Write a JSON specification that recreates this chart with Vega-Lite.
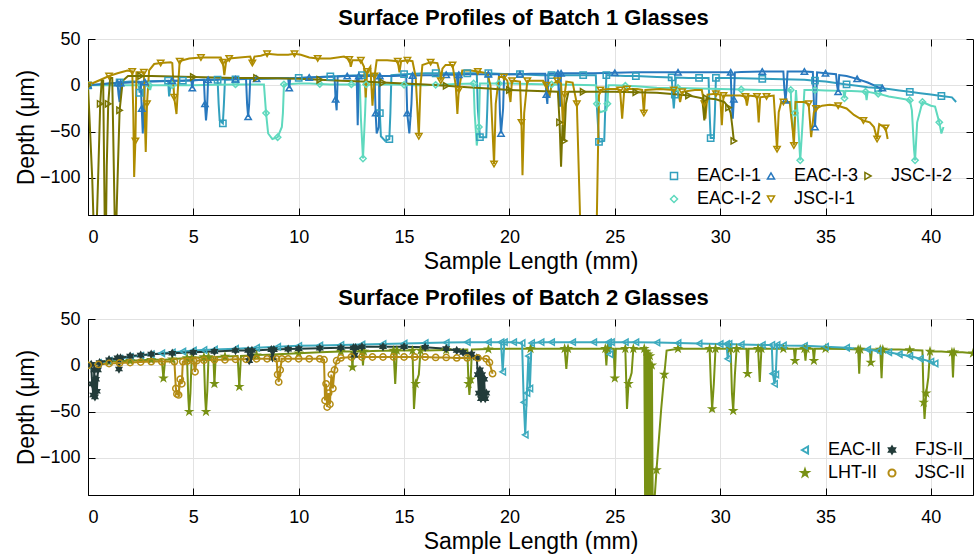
{
"$schema": "https://vega.github.io/schema/vega-lite/v6.json",
"background": "white",
"padding": {"left": 14, "top": 6, "right": 2, "bottom": 0},
"spacing": -7,
"config": {
 "font": "Liberation Sans",
 "view": {"stroke": "black", "strokeWidth": 1},
 "axis": {"grid": true, "gridColor": "#E2E2E2", "gridWidth": 1, "domain": true, "domainColor": "black", "tickColor": "black", "tickSize": -7, "labelFont": "Liberation Sans", "labelFontSize": 18, "labelColor": "black", "titleFont": "Liberation Sans", "titleFontSize": 23, "titleFontWeight": "normal", "titleColor": "black"},
 "legend": {"labelFont": "Liberation Sans", "labelFontSize": 18, "labelColor": "black", "symbolStrokeWidth": 1.5, "symbolSize": 50, "rowPadding": 5, "columnPadding": -5, "labelOffset": 14, "padding": 0},
 "title": {"font": "Liberation Sans", "fontSize": 22, "fontWeight": "bold", "color": "black"}
},
"resolve": {"scale": {"color": "independent", "shape": "independent", "fill": "independent", "strokeWidth": "independent"}, "legend": {"color": "independent", "shape": "independent"}},
"datasets": {
"b1": [
{"s":"EAC-I-1","x":0,"y":0},{"s":"EAC-I-1","x":0.5,"y":1},{"s":"EAC-I-1","x":1,"y":2},{"s":"EAC-I-1","x":1.5,"y":3},{"s":"EAC-I-1","x":2,"y":4},{"s":"EAC-I-1","x":2.4,"y":4},{"s":"EAC-I-1","x":2.45,"y":-8},{"s":"EAC-I-1","x":2.55,"y":4},{"s":"EAC-I-1","x":3,"y":4.5},{"s":"EAC-I-1","x":3.8,"y":5},{"s":"EAC-I-1","x":3.85,"y":-12},{"s":"EAC-I-1","x":3.95,"y":5},{"s":"EAC-I-1","x":4.5,"y":5},{"s":"EAC-I-1","x":5,"y":5.5},{"s":"EAC-I-1","x":5.5,"y":6},{"s":"EAC-I-1","x":6.15,"y":6},{"s":"EAC-I-1","x":6.2,"y":-20},{"s":"EAC-I-1","x":6.25,"y":-38},{"s":"EAC-I-1","x":6.4,"y":-41},{"s":"EAC-I-1","x":6.45,"y":-20},{"s":"EAC-I-1","x":6.5,"y":6},{"s":"EAC-I-1","x":7,"y":6.5},{"s":"EAC-I-1","x":8,"y":7},{"s":"EAC-I-1","x":9,"y":7.5},{"s":"EAC-I-1","x":10,"y":8},{"s":"EAC-I-1","x":10.5,"y":8.5},{"s":"EAC-I-1","x":11,"y":9},{"s":"EAC-I-1","x":11.5,"y":9.5},{"s":"EAC-I-1","x":12,"y":10},{"s":"EAC-I-1","x":12.5,"y":10.5},{"s":"EAC-I-1","x":13,"y":11},{"s":"EAC-I-1","x":13.5,"y":11.5},{"s":"EAC-I-1","x":13.8,"y":11},{"s":"EAC-I-1","x":13.85,"y":-30},{"s":"EAC-I-1","x":13.9,"y":-55},{"s":"EAC-I-1","x":14.1,"y":-60},{"s":"EAC-I-1","x":14.3,"y":-58},{"s":"EAC-I-1","x":14.35,"y":-30},{"s":"EAC-I-1","x":14.4,"y":11},{"s":"EAC-I-1","x":15,"y":12},{"s":"EAC-I-1","x":15.5,"y":12.5},{"s":"EAC-I-1","x":16,"y":13},{"s":"EAC-I-1","x":16.5,"y":13},{"s":"EAC-I-1","x":17,"y":13},{"s":"EAC-I-1","x":17.5,"y":13},{"s":"EAC-I-1","x":18,"y":13},{"s":"EAC-I-1","x":18.45,"y":13},{"s":"EAC-I-1","x":18.5,"y":-25},{"s":"EAC-I-1","x":18.6,"y":-56},{"s":"EAC-I-1","x":18.9,"y":-56},{"s":"EAC-I-1","x":18.95,"y":-25},{"s":"EAC-I-1","x":19,"y":13},{"s":"EAC-I-1","x":19.5,"y":12.5},{"s":"EAC-I-1","x":20,"y":12},{"s":"EAC-I-1","x":20.5,"y":12},{"s":"EAC-I-1","x":21,"y":11.5},{"s":"EAC-I-1","x":21.5,"y":11},{"s":"EAC-I-1","x":22,"y":11},{"s":"EAC-I-1","x":22.5,"y":11},{"s":"EAC-I-1","x":23,"y":11},{"s":"EAC-I-1","x":23.5,"y":11},{"s":"EAC-I-1","x":24.1,"y":11},{"s":"EAC-I-1","x":24.15,"y":-23},{"s":"EAC-I-1","x":24.25,"y":-61},{"s":"EAC-I-1","x":24.5,"y":-60},{"s":"EAC-I-1","x":24.55,"y":-23},{"s":"EAC-I-1","x":24.6,"y":11},{"s":"EAC-I-1","x":25,"y":10.5},{"s":"EAC-I-1","x":25.5,"y":10},{"s":"EAC-I-1","x":26,"y":10},{"s":"EAC-I-1","x":26.5,"y":9.5},{"s":"EAC-I-1","x":27,"y":9},{"s":"EAC-I-1","x":27.7,"y":8.5},{"s":"EAC-I-1","x":27.75,"y":-10},{"s":"EAC-I-1","x":27.8,"y":-25},{"s":"EAC-I-1","x":27.85,"y":-10},{"s":"EAC-I-1","x":27.9,"y":8.5},{"s":"EAC-I-1","x":28.5,"y":8},{"s":"EAC-I-1","x":29,"y":8},{"s":"EAC-I-1","x":29.45,"y":8},{"s":"EAC-I-1","x":29.5,"y":-30},{"s":"EAC-I-1","x":29.55,"y":-57},{"s":"EAC-I-1","x":29.7,"y":-57},{"s":"EAC-I-1","x":29.75,"y":-30},{"s":"EAC-I-1","x":29.8,"y":8},{"s":"EAC-I-1","x":30.5,"y":8},{"s":"EAC-I-1","x":31,"y":7.5},{"s":"EAC-I-1","x":32,"y":7},{"s":"EAC-I-1","x":33,"y":6.5},{"s":"EAC-I-1","x":34,"y":6},{"s":"EAC-I-1","x":34.5,"y":5},{"s":"EAC-I-1","x":35,"y":4},{"s":"EAC-I-1","x":35.5,"y":2.5},{"s":"EAC-I-1","x":36,"y":1},{"s":"EAC-I-1","x":36.5,"y":-0.5},{"s":"EAC-I-1","x":37,"y":-2},{"s":"EAC-I-1","x":37.5,"y":-3},{"s":"EAC-I-1","x":38,"y":-4},{"s":"EAC-I-1","x":38.5,"y":-5.5},{"s":"EAC-I-1","x":39,"y":-7},{"s":"EAC-I-1","x":39.5,"y":-8.5},{"s":"EAC-I-1","x":40,"y":-10},{"s":"EAC-I-1","x":40.5,"y":-11.5},{"s":"EAC-I-1","x":41,"y":-13},{"s":"EAC-I-1","x":41.2,"y":-18},
{"s":"EAC-I-2","x":0,"y":0},{"s":"EAC-I-2","x":1,"y":0},{"s":"EAC-I-2","x":2,"y":0},{"s":"EAC-I-2","x":2.9,"y":0},{"s":"EAC-I-2","x":2.95,"y":-5},{"s":"EAC-I-2","x":3,"y":0},{"s":"EAC-I-2","x":4,"y":0},{"s":"EAC-I-2","x":5,"y":0},{"s":"EAC-I-2","x":6,"y":0.5},{"s":"EAC-I-2","x":7,"y":1},{"s":"EAC-I-2","x":8,"y":1},{"s":"EAC-I-2","x":8.35,"y":1},{"s":"EAC-I-2","x":8.45,"y":-30},{"s":"EAC-I-2","x":8.55,"y":-52},{"s":"EAC-I-2","x":8.75,"y":-58},{"s":"EAC-I-2","x":9,"y":-56},{"s":"EAC-I-2","x":9.2,"y":-45},{"s":"EAC-I-2","x":9.25,"y":-30},{"s":"EAC-I-2","x":9.3,"y":1},{"s":"EAC-I-2","x":10,"y":2},{"s":"EAC-I-2","x":10.5,"y":2},{"s":"EAC-I-2","x":11,"y":1.5},{"s":"EAC-I-2","x":11.5,"y":1},{"s":"EAC-I-2","x":12,"y":1},{"s":"EAC-I-2","x":12.5,"y":1},{"s":"EAC-I-2","x":12.9,"y":1},{"s":"EAC-I-2","x":12.95,"y":-35},{"s":"EAC-I-2","x":13.05,"y":-79},{"s":"EAC-I-2","x":13.1,"y":-55},{"s":"EAC-I-2","x":13.15,"y":-30},{"s":"EAC-I-2","x":13.2,"y":1},{"s":"EAC-I-2","x":13.7,"y":1},{"s":"EAC-I-2","x":14.5,"y":1},{"s":"EAC-I-2","x":15,"y":0.5},{"s":"EAC-I-2","x":15.5,"y":0},{"s":"EAC-I-2","x":16,"y":0},{"s":"EAC-I-2","x":16.5,"y":0.5},{"s":"EAC-I-2","x":17,"y":1},{"s":"EAC-I-2","x":17.5,"y":1.5},{"s":"EAC-I-2","x":18.3,"y":2},{"s":"EAC-I-2","x":18.35,"y":-30},{"s":"EAC-I-2","x":18.45,"y":-65},{"s":"EAC-I-2","x":18.55,"y":-45},{"s":"EAC-I-2","x":18.6,"y":2},{"s":"EAC-I-2","x":19,"y":2},{"s":"EAC-I-2","x":19.5,"y":2},{"s":"EAC-I-2","x":20,"y":2},{"s":"EAC-I-2","x":21,"y":1.5},{"s":"EAC-I-2","x":22,"y":1},{"s":"EAC-I-2","x":23,"y":0.5},{"s":"EAC-I-2","x":24.1,"y":0},{"s":"EAC-I-2","x":24.15,"y":-20},{"s":"EAC-I-2","x":24.3,"y":-29},{"s":"EAC-I-2","x":24.6,"y":-27},{"s":"EAC-I-2","x":24.65,"y":-20},{"s":"EAC-I-2","x":24.7,"y":0},{"s":"EAC-I-2","x":25,"y":0},{"s":"EAC-I-2","x":25.5,"y":-0.5},{"s":"EAC-I-2","x":26,"y":-1},{"s":"EAC-I-2","x":27,"y":-2.5},{"s":"EAC-I-2","x":28,"y":-3},{"s":"EAC-I-2","x":29,"y":-3.5},{"s":"EAC-I-2","x":30,"y":-4},{"s":"EAC-I-2","x":31,"y":-4.5},{"s":"EAC-I-2","x":32,"y":-5},{"s":"EAC-I-2","x":33,"y":-5},{"s":"EAC-I-2","x":33.35,"y":-5},{"s":"EAC-I-2","x":33.4,"y":-35},{"s":"EAC-I-2","x":33.5,"y":-58},{"s":"EAC-I-2","x":33.55,"y":-30},{"s":"EAC-I-2","x":33.6,"y":-5},{"s":"EAC-I-2","x":33.7,"y":-40},{"s":"EAC-I-2","x":33.8,"y":-81},{"s":"EAC-I-2","x":33.9,"y":-45},{"s":"EAC-I-2","x":34,"y":-5},{"s":"EAC-I-2","x":34.5,"y":-5},{"s":"EAC-I-2","x":35,"y":-5.5},{"s":"EAC-I-2","x":35.85,"y":-6},{"s":"EAC-I-2","x":35.9,"y":-14},{"s":"EAC-I-2","x":35.95,"y":-6},{"s":"EAC-I-2","x":36.5,"y":-6.5},{"s":"EAC-I-2","x":36.9,"y":-7},{"s":"EAC-I-2","x":36.95,"y":-16},{"s":"EAC-I-2","x":37,"y":-7},{"s":"EAC-I-2","x":37.5,"y":-9},{"s":"EAC-I-2","x":38,"y":-12},{"s":"EAC-I-2","x":38.5,"y":-14},{"s":"EAC-I-2","x":39,"y":-16},{"s":"EAC-I-2","x":39.1,"y":-27},{"s":"EAC-I-2","x":39.2,"y":-69},{"s":"EAC-I-2","x":39.25,"y":-81},{"s":"EAC-I-2","x":39.35,"y":-40},{"s":"EAC-I-2","x":39.5,"y":-27},{"s":"EAC-I-2","x":39.6,"y":-18},{"s":"EAC-I-2","x":40,"y":-22},{"s":"EAC-I-2","x":40.2,"y":-23},{"s":"EAC-I-2","x":40.4,"y":-40},{"s":"EAC-I-2","x":40.5,"y":-52},{"s":"EAC-I-2","x":40.6,"y":-45},
{"s":"EAC-I-3","x":0,"y":0},{"s":"EAC-I-3","x":0.5,"y":1},{"s":"EAC-I-3","x":1,"y":2},{"s":"EAC-I-3","x":1.4,"y":2.5},{"s":"EAC-I-3","x":1.45,"y":-10},{"s":"EAC-I-3","x":1.5,"y":-18},{"s":"EAC-I-3","x":1.55,"y":2.5},{"s":"EAC-I-3","x":2,"y":3},{"s":"EAC-I-3","x":2.5,"y":3.5},{"s":"EAC-I-3","x":2.55,"y":-25},{"s":"EAC-I-3","x":2.6,"y":-52},{"s":"EAC-I-3","x":2.65,"y":-20},{"s":"EAC-I-3","x":2.7,"y":3.5},{"s":"EAC-I-3","x":3,"y":4},{"s":"EAC-I-3","x":3.5,"y":4.5},{"s":"EAC-I-3","x":4,"y":5},{"s":"EAC-I-3","x":4.5,"y":5},{"s":"EAC-I-3","x":4.9,"y":5.5},{"s":"EAC-I-3","x":4.95,"y":-3},{"s":"EAC-I-3","x":5,"y":5.5},{"s":"EAC-I-3","x":5.5,"y":6},{"s":"EAC-I-3","x":5.55,"y":-20},{"s":"EAC-I-3","x":5.6,"y":-38},{"s":"EAC-I-3","x":5.65,"y":-25},{"s":"EAC-I-3","x":5.7,"y":6},{"s":"EAC-I-3","x":6,"y":6},{"s":"EAC-I-3","x":6.5,"y":6.5},{"s":"EAC-I-3","x":7,"y":6.5},{"s":"EAC-I-3","x":7.5,"y":7},{"s":"EAC-I-3","x":7.55,"y":-20},{"s":"EAC-I-3","x":7.6,"y":-34},{"s":"EAC-I-3","x":7.65,"y":-20},{"s":"EAC-I-3","x":7.7,"y":7},{"s":"EAC-I-3","x":8,"y":7},{"s":"EAC-I-3","x":9,"y":7.5},{"s":"EAC-I-3","x":9.5,"y":7.5},{"s":"EAC-I-3","x":9.55,"y":-3},{"s":"EAC-I-3","x":9.6,"y":7.5},{"s":"EAC-I-3","x":10,"y":8},{"s":"EAC-I-3","x":10.5,"y":8.5},{"s":"EAC-I-3","x":11,"y":9},{"s":"EAC-I-3","x":11.7,"y":9.5},{"s":"EAC-I-3","x":11.75,"y":-15},{"s":"EAC-I-3","x":11.8,"y":-27},{"s":"EAC-I-3","x":11.85,"y":9.5},{"s":"EAC-I-3","x":12.3,"y":10},{"s":"EAC-I-3","x":12.75,"y":10},{"s":"EAC-I-3","x":12.8,"y":-43},{"s":"EAC-I-3","x":12.85,"y":10},{"s":"EAC-I-3","x":13.3,"y":10},{"s":"EAC-I-3","x":13.6,"y":10},{"s":"EAC-I-3","x":13.65,"y":-30},{"s":"EAC-I-3","x":13.7,"y":-52},{"s":"EAC-I-3","x":13.8,"y":-45},{"s":"EAC-I-3","x":13.85,"y":10},{"s":"EAC-I-3","x":14.5,"y":10},{"s":"EAC-I-3","x":15.1,"y":10.5},{"s":"EAC-I-3","x":15.15,"y":-30},{"s":"EAC-I-3","x":15.25,"y":-52},{"s":"EAC-I-3","x":15.35,"y":-20},{"s":"EAC-I-3","x":15.4,"y":10.5},{"s":"EAC-I-3","x":16,"y":11},{"s":"EAC-I-3","x":16.5,"y":11},{"s":"EAC-I-3","x":17,"y":11.5},{"s":"EAC-I-3","x":17.5,"y":11.5},{"s":"EAC-I-3","x":17.55,"y":-3},{"s":"EAC-I-3","x":17.6,"y":11.5},{"s":"EAC-I-3","x":18,"y":12},{"s":"EAC-I-3","x":18.5,"y":12},{"s":"EAC-I-3","x":19,"y":12},{"s":"EAC-I-3","x":19.5,"y":12},{"s":"EAC-I-3","x":19.55,"y":-30},{"s":"EAC-I-3","x":19.6,"y":-52},{"s":"EAC-I-3","x":19.7,"y":-25},{"s":"EAC-I-3","x":19.75,"y":12},{"s":"EAC-I-3","x":20.5,"y":12},{"s":"EAC-I-3","x":21,"y":12.5},{"s":"EAC-I-3","x":21.7,"y":12.5},{"s":"EAC-I-3","x":21.75,"y":-10},{"s":"EAC-I-3","x":21.8,"y":-20},{"s":"EAC-I-3","x":21.85,"y":12.5},{"s":"EAC-I-3","x":22.3,"y":13},{"s":"EAC-I-3","x":22.35,"y":-15},{"s":"EAC-I-3","x":22.4,"y":-23},{"s":"EAC-I-3","x":22.45,"y":13},{"s":"EAC-I-3","x":23,"y":13},{"s":"EAC-I-3","x":24,"y":13},{"s":"EAC-I-3","x":25,"y":13.5},{"s":"EAC-I-3","x":26,"y":14},{"s":"EAC-I-3","x":27,"y":14},{"s":"EAC-I-3","x":28,"y":14},{"s":"EAC-I-3","x":29,"y":14},{"s":"EAC-I-3","x":30,"y":14},{"s":"EAC-I-3","x":30.5,"y":14},{"s":"EAC-I-3","x":30.55,"y":-20},{"s":"EAC-I-3","x":30.6,"y":-36},{"s":"EAC-I-3","x":30.65,"y":-15},{"s":"EAC-I-3","x":30.7,"y":14},{"s":"EAC-I-3","x":31,"y":14.5},{"s":"EAC-I-3","x":32,"y":15},{"s":"EAC-I-3","x":33,"y":15},{"s":"EAC-I-3","x":33.05,"y":-5},{"s":"EAC-I-3","x":33.1,"y":-16},{"s":"EAC-I-3","x":33.15,"y":-5},{"s":"EAC-I-3","x":33.2,"y":15},{"s":"EAC-I-3","x":34,"y":15},{"s":"EAC-I-3","x":34.4,"y":14.5},{"s":"EAC-I-3","x":34.45,"y":-20},{"s":"EAC-I-3","x":34.5,"y":-45},{"s":"EAC-I-3","x":34.55,"y":-25},{"s":"EAC-I-3","x":34.6,"y":14},{"s":"EAC-I-3","x":35,"y":13},{"s":"EAC-I-3","x":35.5,"y":12},{"s":"EAC-I-3","x":35.55,"y":0},{"s":"EAC-I-3","x":35.6,"y":-7},{"s":"EAC-I-3","x":35.65,"y":11},{"s":"EAC-I-3","x":36,"y":10},{"s":"EAC-I-3","x":36.5,"y":7},{"s":"EAC-I-3","x":37,"y":3},{"s":"EAC-I-3","x":37.5,"y":-2},{"s":"EAC-I-3","x":37.7,"y":-3},
{"s":"JSC-I-1","x":0,"y":0},{"s":"JSC-I-1","x":0.3,"y":3},{"s":"JSC-I-1","x":0.6,"y":6},{"s":"JSC-I-1","x":1,"y":10},{"s":"JSC-I-1","x":1.4,"y":13},{"s":"JSC-I-1","x":1.87,"y":16},{"s":"JSC-I-1","x":2.1,"y":15},{"s":"JSC-I-1","x":2.15,"y":-30},{"s":"JSC-I-1","x":2.19,"y":-99},{"s":"JSC-I-1","x":2.25,"y":-60},{"s":"JSC-I-1","x":2.3,"y":14},{"s":"JSC-I-1","x":2.4,"y":14},{"s":"JSC-I-1","x":2.65,"y":14},{"s":"JSC-I-1","x":2.7,"y":-40},{"s":"JSC-I-1","x":2.74,"y":-72},{"s":"JSC-I-1","x":2.8,"y":-20},{"s":"JSC-I-1","x":2.9,"y":16},{"s":"JSC-I-1","x":3.14,"y":23},{"s":"JSC-I-1","x":3.45,"y":24},{"s":"JSC-I-1","x":3.93,"y":25},{"s":"JSC-I-1","x":4,"y":24},{"s":"JSC-I-1","x":4.09,"y":-13},{"s":"JSC-I-1","x":4.2,"y":-31},{"s":"JSC-I-1","x":4.25,"y":-10},{"s":"JSC-I-1","x":4.35,"y":26},{"s":"JSC-I-1","x":4.49,"y":27},{"s":"JSC-I-1","x":4.8,"y":29},{"s":"JSC-I-1","x":5.36,"y":30},{"s":"JSC-I-1","x":5.8,"y":30},{"s":"JSC-I-1","x":6.3,"y":30},{"s":"JSC-I-1","x":6.4,"y":25},{"s":"JSC-I-1","x":6.47,"y":11},{"s":"JSC-I-1","x":6.55,"y":25},{"s":"JSC-I-1","x":6.7,"y":29},{"s":"JSC-I-1","x":7.2,"y":30},{"s":"JSC-I-1","x":7.7,"y":31},{"s":"JSC-I-1","x":7.8,"y":24},{"s":"JSC-I-1","x":7.9,"y":31},{"s":"JSC-I-1","x":8.2,"y":32},{"s":"JSC-I-1","x":8.5,"y":34},{"s":"JSC-I-1","x":9,"y":33},{"s":"JSC-I-1","x":9.5,"y":33},{"s":"JSC-I-1","x":9.8,"y":34},{"s":"JSC-I-1","x":10.1,"y":33},{"s":"JSC-I-1","x":10.5,"y":30},{"s":"JSC-I-1","x":10.9,"y":29},{"s":"JSC-I-1","x":11.5,"y":29},{"s":"JSC-I-1","x":12.15,"y":31},{"s":"JSC-I-1","x":12.4,"y":28},{"s":"JSC-I-1","x":12.47,"y":20},{"s":"JSC-I-1","x":12.55,"y":27},{"s":"JSC-I-1","x":12.95,"y":27},{"s":"JSC-I-1","x":13.1,"y":20},{"s":"JSC-I-1","x":13.18,"y":-13},{"s":"JSC-I-1","x":13.25,"y":15},{"s":"JSC-I-1","x":13.4,"y":20},{"s":"JSC-I-1","x":13.5,"y":-22},{"s":"JSC-I-1","x":13.6,"y":10},{"s":"JSC-I-1","x":13.7,"y":27},{"s":"JSC-I-1","x":14.2,"y":27},{"s":"JSC-I-1","x":14.7,"y":26},{"s":"JSC-I-1","x":14.78,"y":14},{"s":"JSC-I-1","x":14.86,"y":26},{"s":"JSC-I-1","x":15.16,"y":27},{"s":"JSC-I-1","x":15.4,"y":26},{"s":"JSC-I-1","x":15.55,"y":9},{"s":"JSC-I-1","x":15.7,"y":-55},{"s":"JSC-I-1","x":15.78,"y":0},{"s":"JSC-I-1","x":15.87,"y":22},{"s":"JSC-I-1","x":16.26,"y":25},{"s":"JSC-I-1","x":16.58,"y":24},{"s":"JSC-I-1","x":16.68,"y":15},{"s":"JSC-I-1","x":16.74,"y":5},{"s":"JSC-I-1","x":16.82,"y":18},{"s":"JSC-I-1","x":16.97,"y":22},{"s":"JSC-I-1","x":17.3,"y":22},{"s":"JSC-I-1","x":17.45,"y":0},{"s":"JSC-I-1","x":17.53,"y":-31},{"s":"JSC-I-1","x":17.6,"y":-5},{"s":"JSC-I-1","x":17.76,"y":16},{"s":"JSC-I-1","x":18.16,"y":16},{"s":"JSC-I-1","x":18.5,"y":15},{"s":"JSC-I-1","x":18.95,"y":13},{"s":"JSC-I-1","x":19.1,"y":0},{"s":"JSC-I-1","x":19.27,"y":-85},{"s":"JSC-I-1","x":19.35,"y":-20},{"s":"JSC-I-1","x":19.5,"y":9},{"s":"JSC-I-1","x":19.74,"y":9},{"s":"JSC-I-1","x":19.9,"y":5},{"s":"JSC-I-1","x":20.05,"y":-18},{"s":"JSC-I-1","x":20.12,"y":5},{"s":"JSC-I-1","x":20.2,"y":5},{"s":"JSC-I-1","x":20.5,"y":4},{"s":"JSC-I-1","x":20.57,"y":-40},{"s":"JSC-I-1","x":20.62,"y":-97},{"s":"JSC-I-1","x":20.7,"y":-30},{"s":"JSC-I-1","x":20.85,"y":5},{"s":"JSC-I-1","x":21.2,"y":5},{"s":"JSC-I-1","x":21.6,"y":5},{"s":"JSC-I-1","x":21.75,"y":0},{"s":"JSC-I-1","x":21.9,"y":-13},{"s":"JSC-I-1","x":22,"y":0},{"s":"JSC-I-1","x":22.27,"y":5},{"s":"JSC-I-1","x":22.45,"y":2},{"s":"JSC-I-1","x":22.55,"y":-49},{"s":"JSC-I-1","x":22.62,"y":-10},{"s":"JSC-I-1","x":22.7,"y":4},{"s":"JSC-I-1","x":23,"y":3},{"s":"JSC-I-1","x":23.2,"y":-20},{"s":"JSC-I-1","x":23.35,"y":-140},{"s":"JSC-I-1","x":23.5,"y":-220},{"s":"JSC-I-1","x":24,"y":-220},{"s":"JSC-I-1","x":24.15,"y":-140},{"s":"JSC-I-1","x":24.25,"y":-11},{"s":"JSC-I-1","x":24.32,"y":-5},{"s":"JSC-I-1","x":24.7,"y":-4},{"s":"JSC-I-1","x":25.1,"y":-4},{"s":"JSC-I-1","x":25.25,"y":-5},{"s":"JSC-I-1","x":25.35,"y":-36},{"s":"JSC-I-1","x":25.45,"y":-5},{"s":"JSC-I-1","x":25.58,"y":-4},{"s":"JSC-I-1","x":26.06,"y":-4},{"s":"JSC-I-1","x":26.3,"y":-5},{"s":"JSC-I-1","x":26.38,"y":-30},{"s":"JSC-I-1","x":26.45,"y":-5},{"s":"JSC-I-1","x":27.14,"y":-4},{"s":"JSC-I-1","x":27.8,"y":-5},{"s":"JSC-I-1","x":28,"y":-6},{"s":"JSC-I-1","x":28.1,"y":-18},{"s":"JSC-I-1","x":28.2,"y":-7},{"s":"JSC-I-1","x":28.8,"y":-5},{"s":"JSC-I-1","x":29.13,"y":-5},{"s":"JSC-I-1","x":29.25,"y":-20},{"s":"JSC-I-1","x":29.3,"y":-36},{"s":"JSC-I-1","x":29.4,"y":-10},{"s":"JSC-I-1","x":29.8,"y":-9},{"s":"JSC-I-1","x":30,"y":-10},{"s":"JSC-I-1","x":30.08,"y":-43},{"s":"JSC-I-1","x":30.16,"y":-11},{"s":"JSC-I-1","x":30.5,"y":-11},{"s":"JSC-I-1","x":30.95,"y":-11},{"s":"JSC-I-1","x":31.2,"y":-12},{"s":"JSC-I-1","x":31.27,"y":-22},{"s":"JSC-I-1","x":31.35,"y":-11},{"s":"JSC-I-1","x":31.75,"y":-12},{"s":"JSC-I-1","x":31.83,"y":-40},{"s":"JSC-I-1","x":31.9,"y":-13},{"s":"JSC-I-1","x":32.2,"y":-12},{"s":"JSC-I-1","x":32.54,"y":-11},{"s":"JSC-I-1","x":32.62,"y":-40},{"s":"JSC-I-1","x":32.7,"y":-69},{"s":"JSC-I-1","x":32.78,"y":-29},{"s":"JSC-I-1","x":32.9,"y":-18},{"s":"JSC-I-1","x":33,"y":-18},{"s":"JSC-I-1","x":33.3,"y":-18},{"s":"JSC-I-1","x":33.45,"y":-50},{"s":"JSC-I-1","x":33.5,"y":-65},{"s":"JSC-I-1","x":33.58,"y":-18},{"s":"JSC-I-1","x":33.97,"y":-18},{"s":"JSC-I-1","x":34.2,"y":-20},{"s":"JSC-I-1","x":34.32,"y":-56},{"s":"JSC-I-1","x":34.45,"y":-29},{"s":"JSC-I-1","x":34.55,"y":-25},{"s":"JSC-I-1","x":34.84,"y":-22},{"s":"JSC-I-1","x":35.2,"y":-21},{"s":"JSC-I-1","x":35.6,"y":-22},{"s":"JSC-I-1","x":36,"y":-25},{"s":"JSC-I-1","x":36.35,"y":-32},{"s":"JSC-I-1","x":36.8,"y":-38},{"s":"JSC-I-1","x":37.1,"y":-40},{"s":"JSC-I-1","x":37.3,"y":-45},{"s":"JSC-I-1","x":37.45,"y":-58},{"s":"JSC-I-1","x":37.55,"y":-42},{"s":"JSC-I-1","x":37.7,"y":-44},{"s":"JSC-I-1","x":37.85,"y":-46},{"s":"JSC-I-1","x":37.95,"y":-58},
{"s":"JSC-I-2","x":0,"y":0},{"s":"JSC-I-2","x":0.1,"y":-50},{"s":"JSC-I-2","x":0.2,"y":-100},{"s":"JSC-I-2","x":0.28,"y":-160},{"s":"JSC-I-2","x":0.4,"y":-160},{"s":"JSC-I-2","x":0.48,"y":-100},{"s":"JSC-I-2","x":0.58,"y":-20},{"s":"JSC-I-2","x":0.65,"y":5},{"s":"JSC-I-2","x":0.72,"y":5},{"s":"JSC-I-2","x":0.8,"y":-160},{"s":"JSC-I-2","x":0.85,"y":-160},{"s":"JSC-I-2","x":0.89,"y":-88},{"s":"JSC-I-2","x":0.96,"y":-20},{"s":"JSC-I-2","x":1.05,"y":8},{"s":"JSC-I-2","x":1.15,"y":8},{"s":"JSC-I-2","x":1.28,"y":-160},{"s":"JSC-I-2","x":1.33,"y":-160},{"s":"JSC-I-2","x":1.37,"y":-127},{"s":"JSC-I-2","x":1.5,"y":-27},{"s":"JSC-I-2","x":1.65,"y":5},{"s":"JSC-I-2","x":1.9,"y":10},{"s":"JSC-I-2","x":2.5,"y":10},{"s":"JSC-I-2","x":3,"y":10},{"s":"JSC-I-2","x":4,"y":9.5},{"s":"JSC-I-2","x":5,"y":9},{"s":"JSC-I-2","x":6,"y":8.5},{"s":"JSC-I-2","x":7,"y":8},{"s":"JSC-I-2","x":8,"y":8},{"s":"JSC-I-2","x":9,"y":7.5},{"s":"JSC-I-2","x":10,"y":7},{"s":"JSC-I-2","x":11,"y":6},{"s":"JSC-I-2","x":12,"y":5},{"s":"JSC-I-2","x":13,"y":4},{"s":"JSC-I-2","x":14,"y":3},{"s":"JSC-I-2","x":15,"y":2},{"s":"JSC-I-2","x":16,"y":1},{"s":"JSC-I-2","x":17,"y":-0.5},{"s":"JSC-I-2","x":18,"y":-2},{"s":"JSC-I-2","x":19,"y":-3.5},{"s":"JSC-I-2","x":20,"y":-5},{"s":"JSC-I-2","x":21,"y":-6},{"s":"JSC-I-2","x":22.3,"y":-7},{"s":"JSC-I-2","x":22.38,"y":-40},{"s":"JSC-I-2","x":22.45,"y":-88},{"s":"JSC-I-2","x":22.52,"y":-43},{"s":"JSC-I-2","x":22.6,"y":-60},{"s":"JSC-I-2","x":22.68,"y":-20},{"s":"JSC-I-2","x":22.8,"y":-7},{"s":"JSC-I-2","x":23.5,"y":-7},{"s":"JSC-I-2","x":24,"y":-7},{"s":"JSC-I-2","x":25,"y":-7},{"s":"JSC-I-2","x":26,"y":-7.5},{"s":"JSC-I-2","x":27,"y":-8},{"s":"JSC-I-2","x":28,"y":-10},{"s":"JSC-I-2","x":28.5,"y":-11},{"s":"JSC-I-2","x":29.15,"y":-14},{"s":"JSC-I-2","x":29.25,"y":-38},{"s":"JSC-I-2","x":29.35,"y":-14},{"s":"JSC-I-2","x":29.8,"y":-15},{"s":"JSC-I-2","x":30.2,"y":-18},{"s":"JSC-I-2","x":30.4,"y":-24},{"s":"JSC-I-2","x":30.5,"y":-30},{"s":"JSC-I-2","x":30.58,"y":-45},{"s":"JSC-I-2","x":30.65,"y":-60}
],
"b2": [
{"s":"LHT-II","x":0,"y":0},{"s":"LHT-II","x":0.5,"y":2},{"s":"LHT-II","x":1,"y":4},{"s":"LHT-II","x":1.5,"y":4.5},{"s":"LHT-II","x":2,"y":5},{"s":"LHT-II","x":2.5,"y":5.5},{"s":"LHT-II","x":3,"y":6},{"s":"LHT-II","x":3.5,"y":6},{"s":"LHT-II","x":3.58,"y":-14},{"s":"LHT-II","x":3.66,"y":6},{"s":"LHT-II","x":4,"y":6.5},{"s":"LHT-II","x":4.5,"y":7.5},{"s":"LHT-II","x":4.7,"y":8},{"s":"LHT-II","x":4.76,"y":-35},{"s":"LHT-II","x":4.8,"y":-50},{"s":"LHT-II","x":4.86,"y":-30},{"s":"LHT-II","x":4.92,"y":8},{"s":"LHT-II","x":5.2,"y":8.5},{"s":"LHT-II","x":5.5,"y":9},{"s":"LHT-II","x":5.56,"y":-35},{"s":"LHT-II","x":5.6,"y":-50},{"s":"LHT-II","x":5.66,"y":-28},{"s":"LHT-II","x":5.72,"y":9},{"s":"LHT-II","x":5.95,"y":9},{"s":"LHT-II","x":6,"y":-20},{"s":"LHT-II","x":6.06,"y":9},{"s":"LHT-II","x":6.5,"y":9.5},{"s":"LHT-II","x":7.1,"y":10},{"s":"LHT-II","x":7.18,"y":-23},{"s":"LHT-II","x":7.26,"y":10},{"s":"LHT-II","x":8,"y":11},{"s":"LHT-II","x":9,"y":12},{"s":"LHT-II","x":10,"y":13},{"s":"LHT-II","x":11,"y":14},{"s":"LHT-II","x":12,"y":15},{"s":"LHT-II","x":12.5,"y":15},{"s":"LHT-II","x":12.55,"y":-2},{"s":"LHT-II","x":12.6,"y":15},{"s":"LHT-II","x":13,"y":15},{"s":"LHT-II","x":13.05,"y":0},{"s":"LHT-II","x":13.1,"y":15},{"s":"LHT-II","x":13.5,"y":15.5},{"s":"LHT-II","x":14.5,"y":16},{"s":"LHT-II","x":14.58,"y":-20},{"s":"LHT-II","x":14.66,"y":16},{"s":"LHT-II","x":15,"y":16},{"s":"LHT-II","x":15.4,"y":16},{"s":"LHT-II","x":15.47,"y":-47},{"s":"LHT-II","x":15.55,"y":-20},{"s":"LHT-II","x":15.7,"y":-10},{"s":"LHT-II","x":15.78,"y":16},{"s":"LHT-II","x":16,"y":16},{"s":"LHT-II","x":17,"y":16.5},{"s":"LHT-II","x":18,"y":17},{"s":"LHT-II","x":18.06,"y":-20},{"s":"LHT-II","x":18.1,"y":-32},{"s":"LHT-II","x":18.16,"y":-15},{"s":"LHT-II","x":18.22,"y":17},{"s":"LHT-II","x":19,"y":17.5},{"s":"LHT-II","x":20,"y":18},{"s":"LHT-II","x":21,"y":18},{"s":"LHT-II","x":22,"y":18},{"s":"LHT-II","x":22.62,"y":18},{"s":"LHT-II","x":22.7,"y":-4},{"s":"LHT-II","x":22.78,"y":18},{"s":"LHT-II","x":23.5,"y":18},{"s":"LHT-II","x":24.55,"y":18},{"s":"LHT-II","x":24.6,"y":0},{"s":"LHT-II","x":24.65,"y":18},{"s":"LHT-II","x":24.95,"y":18},{"s":"LHT-II","x":25,"y":-14},{"s":"LHT-II","x":25.05,"y":18},{"s":"LHT-II","x":25.5,"y":18},{"s":"LHT-II","x":25.58,"y":-47},{"s":"LHT-II","x":25.65,"y":-20},{"s":"LHT-II","x":25.8,"y":-8},{"s":"LHT-II","x":25.88,"y":18},{"s":"LHT-II","x":26.2,"y":18},{"s":"LHT-II","x":26.4,"y":18},{"s":"LHT-II","x":26.44,"y":-150},{"s":"LHT-II","x":26.49,"y":15},{"s":"LHT-II","x":26.53,"y":-150},{"s":"LHT-II","x":26.58,"y":12},{"s":"LHT-II","x":26.62,"y":-150},{"s":"LHT-II","x":26.67,"y":10},{"s":"LHT-II","x":26.71,"y":-150},{"s":"LHT-II","x":26.76,"y":0},{"s":"LHT-II","x":26.8,"y":-150},{"s":"LHT-II","x":26.86,"y":-145},{"s":"LHT-II","x":26.9,"y":-140},{"s":"LHT-II","x":26.98,"y":-113},{"s":"LHT-II","x":27.2,"y":-48},{"s":"LHT-II","x":27.35,"y":-10},{"s":"LHT-II","x":27.46,"y":16},{"s":"LHT-II","x":28,"y":18},{"s":"LHT-II","x":29,"y":18},{"s":"LHT-II","x":29.5,"y":18},{"s":"LHT-II","x":29.56,"y":-20},{"s":"LHT-II","x":29.62,"y":-47},{"s":"LHT-II","x":29.7,"y":-20},{"s":"LHT-II","x":29.78,"y":18},{"s":"LHT-II","x":30,"y":18},{"s":"LHT-II","x":30.5,"y":18},{"s":"LHT-II","x":30.56,"y":-30},{"s":"LHT-II","x":30.62,"y":-49},{"s":"LHT-II","x":30.7,"y":-10},{"s":"LHT-II","x":30.78,"y":18},{"s":"LHT-II","x":31.25,"y":18},{"s":"LHT-II","x":31.3,"y":-9},{"s":"LHT-II","x":31.35,"y":18},{"s":"LHT-II","x":31.8,"y":18},{"s":"LHT-II","x":31.88,"y":-18},{"s":"LHT-II","x":31.96,"y":18},{"s":"LHT-II","x":32.5,"y":18},{"s":"LHT-II","x":33,"y":18},{"s":"LHT-II","x":33.5,"y":18},{"s":"LHT-II","x":33.55,"y":5},{"s":"LHT-II","x":33.6,"y":18},{"s":"LHT-II","x":34,"y":18},{"s":"LHT-II","x":34.05,"y":5},{"s":"LHT-II","x":34.1,"y":18},{"s":"LHT-II","x":34.4,"y":18},{"s":"LHT-II","x":34.45,"y":5},{"s":"LHT-II","x":34.5,"y":18},{"s":"LHT-II","x":35,"y":18},{"s":"LHT-II","x":36,"y":17.5},{"s":"LHT-II","x":36.55,"y":17},{"s":"LHT-II","x":36.6,"y":-9},{"s":"LHT-II","x":36.65,"y":17},{"s":"LHT-II","x":37.1,"y":17},{"s":"LHT-II","x":37.15,"y":3},{"s":"LHT-II","x":37.2,"y":17},{"s":"LHT-II","x":37.6,"y":17},{"s":"LHT-II","x":37.66,"y":-14},{"s":"LHT-II","x":37.72,"y":17},{"s":"LHT-II","x":38.5,"y":17},{"s":"LHT-II","x":39,"y":16.5},{"s":"LHT-II","x":39.6,"y":16},{"s":"LHT-II","x":39.66,"y":-40},{"s":"LHT-II","x":39.7,"y":-58},{"s":"LHT-II","x":39.78,"y":-30},{"s":"LHT-II","x":39.88,"y":-13},{"s":"LHT-II","x":39.96,"y":15},{"s":"LHT-II","x":40.5,"y":15},{"s":"LHT-II","x":41,"y":14},{"s":"LHT-II","x":41.05,"y":-13},{"s":"LHT-II","x":41.1,"y":14},{"s":"LHT-II","x":41.5,"y":14},{"s":"LHT-II","x":42,"y":13},
{"s":"EAC-II","x":0,"y":0},{"s":"EAC-II","x":0.5,"y":2.5},{"s":"EAC-II","x":1,"y":5},{"s":"EAC-II","x":1.5,"y":7},{"s":"EAC-II","x":2,"y":9},{"s":"EAC-II","x":2.5,"y":10.5},{"s":"EAC-II","x":3,"y":12},{"s":"EAC-II","x":3.5,"y":13},{"s":"EAC-II","x":4,"y":14},{"s":"EAC-II","x":4.5,"y":15},{"s":"EAC-II","x":5,"y":16},{"s":"EAC-II","x":5.5,"y":16.5},{"s":"EAC-II","x":6,"y":17},{"s":"EAC-II","x":7,"y":18},{"s":"EAC-II","x":8,"y":19},{"s":"EAC-II","x":9,"y":20},{"s":"EAC-II","x":10,"y":21},{"s":"EAC-II","x":11,"y":21.5},{"s":"EAC-II","x":12,"y":22},{"s":"EAC-II","x":13,"y":22.5},{"s":"EAC-II","x":14,"y":23},{"s":"EAC-II","x":15,"y":23.5},{"s":"EAC-II","x":16,"y":24},{"s":"EAC-II","x":17,"y":24.5},{"s":"EAC-II","x":18,"y":25},{"s":"EAC-II","x":19,"y":25},{"s":"EAC-II","x":19.6,"y":25},{"s":"EAC-II","x":19.68,"y":-7},{"s":"EAC-II","x":19.76,"y":25},{"s":"EAC-II","x":20.2,"y":25},{"s":"EAC-II","x":20.6,"y":24},{"s":"EAC-II","x":20.68,"y":-40},{"s":"EAC-II","x":20.75,"y":-75},{"s":"EAC-II","x":20.83,"y":-30},{"s":"EAC-II","x":20.9,"y":10},{"s":"EAC-II","x":20.97,"y":-25},{"s":"EAC-II","x":21.05,"y":24},{"s":"EAC-II","x":21.5,"y":25},{"s":"EAC-II","x":22,"y":25},{"s":"EAC-II","x":23,"y":25},{"s":"EAC-II","x":24,"y":25},{"s":"EAC-II","x":24.7,"y":25},{"s":"EAC-II","x":24.77,"y":12},{"s":"EAC-II","x":24.84,"y":25},{"s":"EAC-II","x":25.5,"y":25},{"s":"EAC-II","x":26,"y":25},{"s":"EAC-II","x":27,"y":24.5},{"s":"EAC-II","x":28,"y":24},{"s":"EAC-II","x":29,"y":23.5},{"s":"EAC-II","x":30,"y":23},{"s":"EAC-II","x":30.3,"y":23},{"s":"EAC-II","x":30.36,"y":7},{"s":"EAC-II","x":30.42,"y":23},{"s":"EAC-II","x":31,"y":22.5},{"s":"EAC-II","x":32,"y":22},{"s":"EAC-II","x":32.45,"y":22},{"s":"EAC-II","x":32.5,"y":-9},{"s":"EAC-II","x":32.58,"y":-20},{"s":"EAC-II","x":32.64,"y":-10},{"s":"EAC-II","x":32.7,"y":22},{"s":"EAC-II","x":33,"y":21.5},{"s":"EAC-II","x":34,"y":21},{"s":"EAC-II","x":35,"y":20},{"s":"EAC-II","x":36,"y":19},{"s":"EAC-II","x":37,"y":17},{"s":"EAC-II","x":37.5,"y":15.5},{"s":"EAC-II","x":38,"y":14},{"s":"EAC-II","x":38.5,"y":12},{"s":"EAC-II","x":39,"y":10},{"s":"EAC-II","x":39.5,"y":7},{"s":"EAC-II","x":40,"y":4},{"s":"EAC-II","x":40.2,"y":2},
{"s":"FJS-II_","x":0,"y":0},{"s":"FJS-II_","x":0.15,"y":1},{"s":"FJS-II_","x":0.2,"y":-20},{"s":"FJS-II_","x":0.25,"y":-32},{"s":"FJS-II_","x":0.3,"y":-5},{"s":"FJS-II_","x":0.33,"y":-34},{"s":"FJS-II_","x":0.38,"y":-15},{"s":"FJS-II_","x":0.42,"y":-28},{"s":"FJS-II_","x":0.47,"y":-5},{"s":"FJS-II_","x":0.55,"y":3},{"s":"FJS-II_","x":1,"y":6},{"s":"FJS-II_","x":1.4,"y":8},{"s":"FJS-II_","x":1.47,"y":-4},{"s":"FJS-II_","x":1.54,"y":8},{"s":"FJS-II_","x":2,"y":10},{"s":"FJS-II_","x":2.5,"y":11},{"s":"FJS-II_","x":3,"y":12},{"s":"FJS-II_","x":4,"y":13},{"s":"FJS-II_","x":5,"y":14},{"s":"FJS-II_","x":6,"y":15},{"s":"FJS-II_","x":7,"y":16},{"s":"FJS-II_","x":7.6,"y":16},{"s":"FJS-II_","x":7.65,"y":5},{"s":"FJS-II_","x":7.72,"y":10},{"s":"FJS-II_","x":7.78,"y":16},{"s":"FJS-II_","x":8.7,"y":17},{"s":"FJS-II_","x":8.76,"y":8},{"s":"FJS-II_","x":8.82,"y":17},{"s":"FJS-II_","x":9.5,"y":17.5},{"s":"FJS-II_","x":10,"y":18},{"s":"FJS-II_","x":11,"y":18.5},{"s":"FJS-II_","x":12,"y":19},{"s":"FJS-II_","x":12.6,"y":19},{"s":"FJS-II_","x":12.65,"y":11},{"s":"FJS-II_","x":12.7,"y":19},{"s":"FJS-II_","x":13,"y":20},{"s":"FJS-II_","x":14,"y":20},{"s":"FJS-II_","x":15,"y":20},{"s":"FJS-II_","x":16,"y":19.5},{"s":"FJS-II_","x":17,"y":18},{"s":"FJS-II_","x":17.5,"y":16},{"s":"FJS-II_","x":17.8,"y":14},{"s":"FJS-II_","x":18.2,"y":12},{"s":"FJS-II_","x":18.45,"y":8},{"s":"FJS-II_","x":18.5,"y":-10},{"s":"FJS-II_","x":18.55,"y":-30},{"s":"FJS-II_","x":18.6,"y":-5},{"s":"FJS-II_","x":18.65,"y":-36},{"s":"FJS-II_","x":18.7,"y":-10},{"s":"FJS-II_","x":18.75,"y":-33},{"s":"FJS-II_","x":18.8,"y":-15},{"s":"FJS-II_","x":18.85,"y":-36},{"s":"FJS-II_","x":18.9,"y":-30},
{"s":"JSC-II","x":0,"y":0},{"s":"JSC-II","x":0.5,"y":1},{"s":"JSC-II","x":1,"y":2},{"s":"JSC-II","x":1.5,"y":2.5},{"s":"JSC-II","x":2,"y":3},{"s":"JSC-II","x":2.5,"y":3.5},{"s":"JSC-II","x":3,"y":4},{"s":"JSC-II","x":3.5,"y":4},{"s":"JSC-II","x":4.1,"y":4},{"s":"JSC-II","x":4.17,"y":-25},{"s":"JSC-II","x":4.22,"y":-31},{"s":"JSC-II","x":4.3,"y":-32},{"s":"JSC-II","x":4.38,"y":-15},{"s":"JSC-II","x":4.45,"y":-20},{"s":"JSC-II","x":4.5,"y":4},{"s":"JSC-II","x":4.7,"y":4.5},{"s":"JSC-II","x":5,"y":5},{"s":"JSC-II","x":5.08,"y":-7},{"s":"JSC-II","x":5.16,"y":5},{"s":"JSC-II","x":5.5,"y":5.5},{"s":"JSC-II","x":6,"y":6},{"s":"JSC-II","x":6.5,"y":6},{"s":"JSC-II","x":7,"y":6.5},{"s":"JSC-II","x":7.5,"y":6.5},{"s":"JSC-II","x":8,"y":7},{"s":"JSC-II","x":8.5,"y":7},{"s":"JSC-II","x":8.95,"y":7},{"s":"JSC-II","x":9,"y":-10},{"s":"JSC-II","x":9.05,"y":-18},{"s":"JSC-II","x":9.12,"y":-5},{"s":"JSC-II","x":9.2,"y":7},{"s":"JSC-II","x":9.5,"y":7},{"s":"JSC-II","x":10,"y":7},{"s":"JSC-II","x":10.5,"y":7},{"s":"JSC-II","x":11,"y":7},{"s":"JSC-II","x":11.2,"y":6},{"s":"JSC-II","x":11.25,"y":-38},{"s":"JSC-II","x":11.3,"y":-20},{"s":"JSC-II","x":11.35,"y":-45},{"s":"JSC-II","x":11.42,"y":-30},{"s":"JSC-II","x":11.48,"y":-42},{"s":"JSC-II","x":11.55,"y":-10},{"s":"JSC-II","x":11.62,"y":-25},{"s":"JSC-II","x":11.7,"y":-5},{"s":"JSC-II","x":11.8,"y":5},{"s":"JSC-II","x":12,"y":8},{"s":"JSC-II","x":12.5,"y":9},{"s":"JSC-II","x":13,"y":9},{"s":"JSC-II","x":13.5,"y":9},{"s":"JSC-II","x":14,"y":9},{"s":"JSC-II","x":14.5,"y":9},{"s":"JSC-II","x":15,"y":9},{"s":"JSC-II","x":15.5,"y":9},{"s":"JSC-II","x":16,"y":9},{"s":"JSC-II","x":16.5,"y":8.5},{"s":"JSC-II","x":17,"y":8.5},{"s":"JSC-II","x":17.5,"y":8},{"s":"JSC-II","x":18,"y":8},{"s":"JSC-II","x":18.5,"y":8},{"s":"JSC-II","x":18.9,"y":7},{"s":"JSC-II","x":19.05,"y":3},{"s":"JSC-II","x":19.2,"y":-9}
]
},
"vconcat": [
{
 "width": 885, "height": 176,
 "title": {"text": "Surface Profiles of Batch 1 Glasses", "frame": "group", "dx": -7, "offset": 0},
 "data": {"name": "b1"},
 "resolve": {"axis": {"x": "independent", "y": "independent"}},
 "layer": [
  {"mark": {"type": "line", "strokeWidth": 2, "clip": true},
   "encoding": {
    "x": {"field": "x", "type": "quantitative", "scale": {"domain": [0, 42], "nice": false, "zero": false}, "axis": {"values": [0,5,10,15,20,25,30,35,40], "title": "Sample Length (mm)", "labelPadding": 20, "titlePadding": 4}},
    "y": {"field": "y", "type": "quantitative", "scale": {"domain": [-140, 50], "nice": false, "zero": false}, "axis": {"values": [-100,-50,0,50], "title": "Depth (μm)", "labelPadding": 15, "titlePadding": 1}},
    "color": {"field": "s", "type": "nominal", "scale": {"domain": ["EAC-I-1","EAC-I-2","EAC-I-3","JSC-I-1","JSC-I-2"], "range": ["#32A0BE","#5FD9BE","#2878BE","#AF8C00","#787300"]}}
   }},
  {"transform": [{"window": [{"op": "row_number", "as": "rn"}], "groupby": ["s"]}, {"filter": "datum.rn % 3 === 1"}],
   "mark": {"type": "point", "filled": false, "strokeWidth": 1.5, "size": 40, "clip": true, "opacity": 1},
   "encoding": {
    "x": {"field": "x", "type": "quantitative", "axis": null},
    "y": {"field": "y", "type": "quantitative", "axis": null},
    "color": {"field": "s", "type": "nominal", "legend": {"orient": "none", "legendX": 577, "legendY": 128, "columns": 3, "title": null, "symbolOpacity": 1}},
    "shape": {"field": "s", "type": "nominal", "scale": {"domain": ["EAC-I-1","EAC-I-2","EAC-I-3","JSC-I-1","JSC-I-2"], "range": ["square","diamond","triangle-up","triangle-down","triangle-right"]}}
   }},
  {"mark": {"type": "point", "opacity": 0},
   "encoding": {
    "x": {"field": "x", "type": "quantitative", "axis": {"orient": "top", "labels": false, "grid": false, "title": null, "domain": false, "values": [0,5,10,15,20,25,30,35,40]}},
    "y": {"field": "y", "type": "quantitative", "axis": {"orient": "right", "labels": false, "grid": false, "title": null, "domain": false, "values": [-100,-50,0,50]}}
   }}
 ]
},
{
 "width": 885, "height": 176,
 "title": {"text": "Surface Profiles of Batch 2 Glasses", "frame": "group", "dx": -7, "offset": 0},
 "data": {"name": "b2"},
 "resolve": {"axis": {"x": "independent", "y": "independent"}},
 "layer": [
  {"mark": {"type": "line", "clip": true},
   "encoding": {
    "x": {"field": "x", "type": "quantitative", "scale": {"domain": [0, 42], "nice": false, "zero": false}, "axis": {"values": [0,5,10,15,20,25,30,35,40], "title": "Sample Length (mm)", "labelPadding": 20, "titlePadding": 4}},
    "y": {"field": "y", "type": "quantitative", "scale": {"domain": [-140, 50], "nice": false, "zero": false}, "axis": {"values": [-100,-50,0,50], "title": "Depth (μm)", "labelPadding": 15, "titlePadding": 1}},
    "color": {"field": "s", "type": "nominal", "scale": {"domain": ["EAC-II","LHT-II","FJS-II_","JSC-II"], "range": ["#3CAABE","#789114","#233C3A","#B48C14"]}},
    "strokeWidth": {"field": "s", "type": "nominal", "scale": {"domain": ["EAC-II","LHT-II","FJS-II_","JSC-II"], "range": [2, 2, 2.5, 1.5]}, "legend": null}
   }},
  {"transform": [{"window": [{"op": "row_number", "as": "rn"}], "groupby": ["s"]}, {"filter": "datum.s === 'LHT-II' ? datum.rn % 2 === 1 : true"}],
   "mark": {"type": "point", "filled": false, "strokeWidth": 1.5, "size": 40, "clip": true, "opacity": 1},
   "encoding": {
    "x": {"field": "x", "type": "quantitative", "axis": null},
    "y": {"field": "y", "type": "quantitative", "axis": null},
    "color": {"field": "s", "type": "nominal", "legend": {"orient": "none", "legendX": 708, "legendY": 122, "columns": 2, "columnPadding": 1, "title": null, "symbolOpacity": 1,
      "encode": {"symbols": {"update": {"fill": {"signal": "datum.value === 'LHT-II' ? '#789114' : datum.value === 'FJS-II_' ? '#233C3A' : 'transparent'"}}}}}},
    "fill": {"field": "s", "type": "nominal", "scale": {"domain": ["EAC-II","LHT-II","FJS-II_","JSC-II"], "range": ["transparent","#789114","#233C3A","transparent"]}, "legend": null},
    "shape": {"field": "s", "type": "nominal", "scale": {"domain": ["EAC-II","LHT-II","FJS-II_","JSC-II"], "range": ["triangle-left","M0,-1L0.2245,-0.309L0.9511,-0.309L0.3633,0.118L0.5878,0.809L0,0.382L-0.5878,0.809L-0.3633,0.118L-0.9511,-0.309L-0.2245,-0.309Z","M0,-1L0.2887,-0.5L0.866,-0.5L0.5774,0L0.866,0.5L0.2887,0.5L0,1L-0.2887,0.5L-0.866,0.5L-0.5774,0L-0.866,-0.5L-0.2887,-0.5Z","circle"]}}
   }},
  {"mark": {"type": "point", "opacity": 0},
   "encoding": {
    "x": {"field": "x", "type": "quantitative", "axis": {"orient": "top", "labels": false, "grid": false, "title": null, "domain": false, "values": [0,5,10,15,20,25,30,35,40]}},
    "y": {"field": "y", "type": "quantitative", "axis": {"orient": "right", "labels": false, "grid": false, "title": null, "domain": false, "values": [-100,-50,0,50]}}
   }}
 ]
}
]
}
